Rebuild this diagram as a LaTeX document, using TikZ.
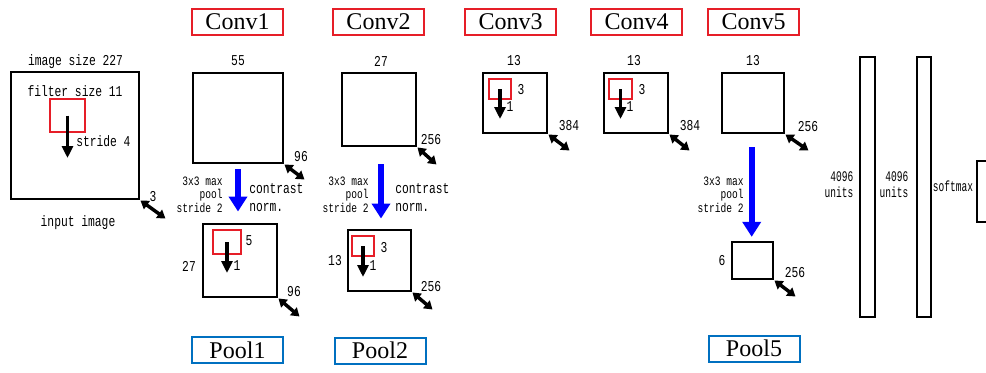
\documentclass[tikz,border=0pt]{standalone}
\usepackage{fontspec}
\setmainfont{Liberation Serif}
\newfontfamily\gfont[FakeStretch=0.75]{Liberation Mono}
\newfontfamily\gnarrow[FakeStretch=0.65]{Liberation Mono}
\usetikzlibrary{arrows.meta,calc}
\definecolor{boxred}{RGB}{230,30,40}
\definecolor{boxblue}{RGB}{0,112,192}
\definecolor{poolblue}{RGB}{0,0,255}
\tikzset{
  lbl/.style={font=\gfont\fontsize{11.3}{13.5}\selectfont, inner sep=0pt},
  poolnote/.style={font=\gfont\fontsize{9.6}{10.1}\selectfont, inner sep=0pt, align=right, anchor=east},
  normnote/.style={lbl, align=left, anchor=west},
  fcnote/.style={font=\gnarrow\fontsize{11}{11.7}\selectfont, inner sep=0pt, align=right, anchor=east},
  fmap/.style={draw=black, line width=2.2pt, inner sep=0pt},
  filt/.style={draw=boxred, line width=1.7pt, inner sep=0pt},
  convlbl/.style={draw=boxred, line width=1.5pt, minimum width=68.25pt, minimum height=19.5pt,
                  inner sep=0pt, font=\fontsize{18}{20}\selectfont},
  poollbl/.style={convlbl, draw=boxblue},
  slide/.style={line width=2.6pt, -{Triangle[width=8.25pt,length=9pt]}},
  depth/.style={line width=2.6pt, {Triangle[width=7.5pt,length=6pt]}-{Triangle[width=7.5pt,length=6pt]}},
  poolarrow/.style={draw=poolblue, line width=4.8pt, -{Triangle[width=13.5pt,length=11.25pt]}}
}
\begin{document}
\begin{tikzpicture}[x=0.75pt,y=-0.75pt]
\useasboundingbox (0,0) rectangle (986,372);
\fill[white] (0,0) rectangle (986,372);
\clip (0,0) rectangle (986,372);

% layer titles
\node[convlbl] (t1) at (237.5,22) {Conv1};
\node[convlbl] (t2) at (378.5,22) {Conv2};
\node[convlbl] (t3) at (510.5,22) {Conv3};
\node[convlbl] (t4) at (636.5,22) {Conv4};
\node[convlbl] (t5) at (753.5,22) {Conv5};
\node[poollbl] (q1) at (237.5,350) {Pool1};
\node[poollbl] (q2) at (380,350.5) {Pool2};
\node[poollbl] (q5) at (754,348.5) {Pool5};

% input image
\node[fmap, minimum width=96pt, minimum height=95.25pt] (in) at (75,135.5) {};
\node[filt, minimum width=26.25pt, minimum height=24.75pt] (f0) at (67.5,115.5) {};
\draw[slide] (f0.center) -- ($(f0.center)+(0,42.5)$) coordinate (f0e);
\node[lbl] (inA) at (75.5,62) {image size 227};
\node[lbl] (inB) at (75,91) {filter size 11};
\node[lbl, anchor=west] (inC) at (76,141) {stride 4};
\node[lbl] (inD) at (153,197) {3};
\node[lbl] (inE) at (78,223) {input image};
\draw[depth] (in.south east) -- ($(in.south east)+(25,18)$) coordinate (in-d);

% conv1 and pool1
\node[fmap, minimum width=67.5pt, minimum height=67.5pt] (c1) at (238,118) {};
\node[lbl] at (238,61) {55};
\node[lbl] at (301,157) {96};
\draw[depth] (c1.south east) -- ($(c1.south east)+(20,15)$) coordinate (c1-d);
\node[fmap, minimum width=55.5pt, minimum height=54.75pt] (p1) at (240,260.5) {};
\draw[poolarrow] ($(c1.south)+(0,5)$) -- ($(p1.north)+(-2,-11)$);
\node[poolnote] at (223,194.5) {3x3 max\\pool\\stride 2};
\node[normnote] at (249,198) {contrast\\norm.};
\node[filt, minimum width=21pt, minimum height=18pt] (f1) at (227,242) {};
\draw[slide] (f1.center) -- ($(f1.center)+(0,31)$) coordinate (f1e);
\node[lbl] at (249,241) {5};
\node[lbl] at (237,266) {1};
\node[lbl] at (189,266) {27};
\node[lbl] at (294,292) {96};
\draw[depth] (p1.south east) -- ($(p1.south east)+(21,18)$) coordinate (p1-d);

% conv2 and pool2
\node[fmap, minimum width=55.5pt, minimum height=54.75pt] (c2) at (379,109.5) {};
\node[lbl] at (381,61) {27};
\node[lbl] at (431,140) {256};
\draw[depth] (c2.south east) -- ($(c2.south east)+(19,17)$) coordinate (c2-d);
\node[fmap, minimum width=47.25pt, minimum height=45.75pt] (p2) at (379.5,260.5) {};
\draw[poolarrow] ($(c2.south)+(2,17)$) -- ($(p2.north)+(1.5,-10)$);
\node[poolnote] at (369,194.5) {3x3 max\\pool\\stride 2};
\node[normnote] at (395,198) {contrast\\norm.};
\node[filt, minimum width=16.5pt, minimum height=15pt] (f2) at (363,246) {};
\draw[slide] (f2.center) -- ($(f2.center)+(0,31)$) coordinate (f2e);
\node[lbl] at (384,248) {3};
\node[lbl] at (373,266) {1};
\node[lbl] at (335,261) {13};
\node[lbl] at (431,287) {256};
\draw[depth] (p2.south east) -- ($(p2.south east)+(20,17)$) coordinate (p2-d);

% conv3
\node[fmap, minimum width=48pt, minimum height=45pt] (c3) at (515,103) {};
\node[filt, minimum width=16.5pt, minimum height=15pt] (f3) at (500,89) {};
\draw[slide] (f3.center) -- ($(f3.center)+(0,30)$) coordinate (f3e);
\node[lbl] at (514,61) {13};
\node[lbl] at (521,90) {3};
\node[lbl] at (510,107) {1};
\node[lbl] at (569,126) {384};
\draw[depth] (c3.south east) -- ($(c3.south east)+(21,16)$) coordinate (c3-d);

% conv4
\node[fmap, minimum width=48pt, minimum height=45pt] (c4) at (636,103) {};
\node[filt, minimum width=17.25pt, minimum height=15pt] (f4) at (620.5,89) {};
\draw[slide] (f4.center) -- ($(f4.center)+(0,30)$) coordinate (f4e);
\node[lbl] at (634,61) {13};
\node[lbl] at (642,90) {3};
\node[lbl] at (630,107) {1};
\node[lbl] at (690,126) {384};
\draw[depth] (c4.south east) -- ($(c4.south east)+(20,16)$) coordinate (c4-d);

% conv5 and pool5
\node[fmap, minimum width=46.5pt, minimum height=45pt] (c5) at (753,103) {};
\node[lbl] at (753,61) {13};
\node[lbl] at (808,127) {256};
\draw[depth] (c5.south east) -- ($(c5.south east)+(23,16)$) coordinate (c5-d);
\node[fmap, minimum width=30.75pt, minimum height=27.75pt] (p5) at (752.5,260.5) {};
\draw[poolarrow] ($(c5.south)+(-1.3,12.7)$) -- ($(p5.north)+(-0.8,-3.7)$);
\node[poolnote] at (744,194.5) {3x3 max\\pool\\stride 2};
\node[lbl] at (722,261) {6};
\node[lbl] at (795,273) {256};
\draw[depth] (p5.south east) -- ($(p5.south east)+(21,16)$) coordinate (p5-d);

% fully connected layers and output
\node[fmap, minimum width=11.25pt, minimum height=195pt] (fc1) at (867.5,187) {};
\node[fmap, minimum width=10.5pt, minimum height=195pt] (fc2) at (924,187) {};
\node[fmap, minimum width=30pt, minimum height=45.75pt] (out) at (997,191.5) {};
\node[fcnote] at (853.5,184.5) {4096\\units};
\node[fcnote] at (908.5,184.5) {4096\\units};
\node[fcnote, anchor=center] at (953,186) {softmax};
\end{tikzpicture}
\end{document}
